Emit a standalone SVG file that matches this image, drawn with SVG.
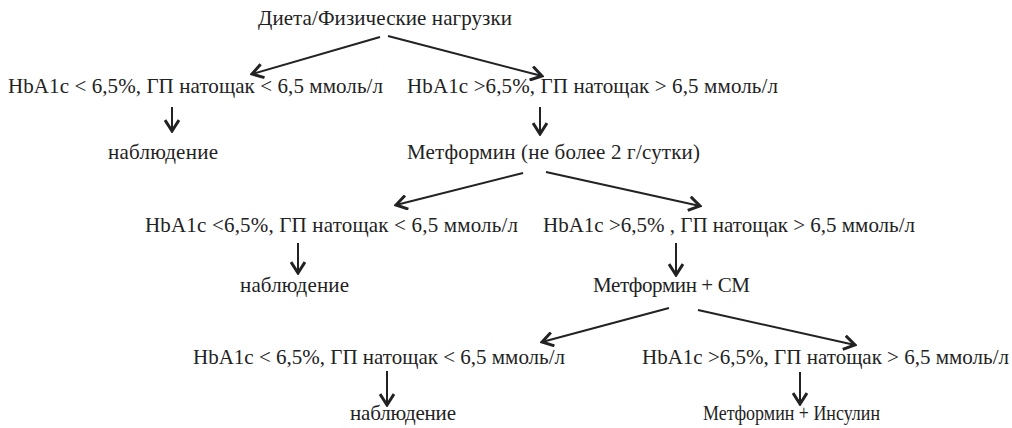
<svg xmlns="http://www.w3.org/2000/svg" width="1012" height="428" viewBox="0 0 1012 428">
<style>
text{font-family:"Liberation Serif",serif;font-size:21px;fill:#222}
.c line{stroke:#222;stroke-width:2;marker-end:url(#a)}
</style>
<defs>
<marker id="a" markerUnits="userSpaceOnUse" viewBox="0 0 14 16" refX="12" refY="8" markerWidth="14" markerHeight="16" orient="auto">
<path d="M1,1 L12,8 L1,15" fill="none" stroke="#222" stroke-width="3" stroke-linejoin="miter"/>
</marker>
</defs>
<rect width="1012" height="428" fill="#fff"/>
<g class="c" id="connectors">
<line x1="380" y1="37" x2="252" y2="74"/>
<line x1="388" y1="36" x2="542" y2="76"/>
<line x1="172" y1="107" x2="172" y2="131"/>
<line x1="540" y1="107" x2="540" y2="134"/>
<line x1="523" y1="173" x2="396" y2="205"/>
<line x1="546" y1="172" x2="700" y2="206"/>
<line x1="298" y1="243" x2="298" y2="273"/>
<line x1="676" y1="243" x2="676" y2="275"/>
<line x1="669" y1="308" x2="542" y2="342"/>
<line x1="698" y1="310" x2="855" y2="345"/>
<line x1="387" y1="371" x2="387" y2="405"/>
<line x1="800" y1="372" x2="800" y2="404"/>
</g>
<g id="n0"><text x="258" y="25" textLength="254">Диета/Физические нагрузки</text></g>
<g id="n1"><text x="8" y="93" textLength="375">HbA1c &lt; 6,5%, ГП натощак &lt; 6,5 ммоль/л</text></g>
<g id="n2"><text x="407" y="93" textLength="371">HbA1c &gt;6,5%, ГП натощак &gt; 6,5 ммоль/л</text></g>
<g id="n3"><text x="108" y="159" textLength="110">наблюдение</text></g>
<g id="n4"><text x="407" y="159" textLength="293">Метформин (не более 2 г/сутки)</text></g>
<g id="n5"><text x="145" y="232" textLength="373">HbA1c &lt;6,5%, ГП натощак &lt;  6,5 ммоль/л</text></g>
<g id="n6"><text x="543" y="232" textLength="372">HbA1c &gt;6,5% , ГП натощак &gt; 6,5 ммоль/л</text></g>
<g id="n7"><text x="240" y="292" textLength="109">наблюдение</text></g>
<g id="n8"><text x="593" y="292" textLength="157">Метформин + СМ</text></g>
<g id="n9"><text x="193" y="364" textLength="372">HbA1c &lt; 6,5%, ГП натощак &lt; 6,5 ммоль/л</text></g>
<g id="n10"><text x="642" y="364" textLength="367">HbA1c &gt;6,5%, ГП натощак &gt; 6,5 ммоль/л</text></g>
<g id="n11"><text x="350" y="420" textLength="106">наблюдение</text></g>
<g id="n12"><text x="703" y="420" textLength="177" lengthAdjust="spacingAndGlyphs">Метформин + Инсулин</text></g>
</svg>
